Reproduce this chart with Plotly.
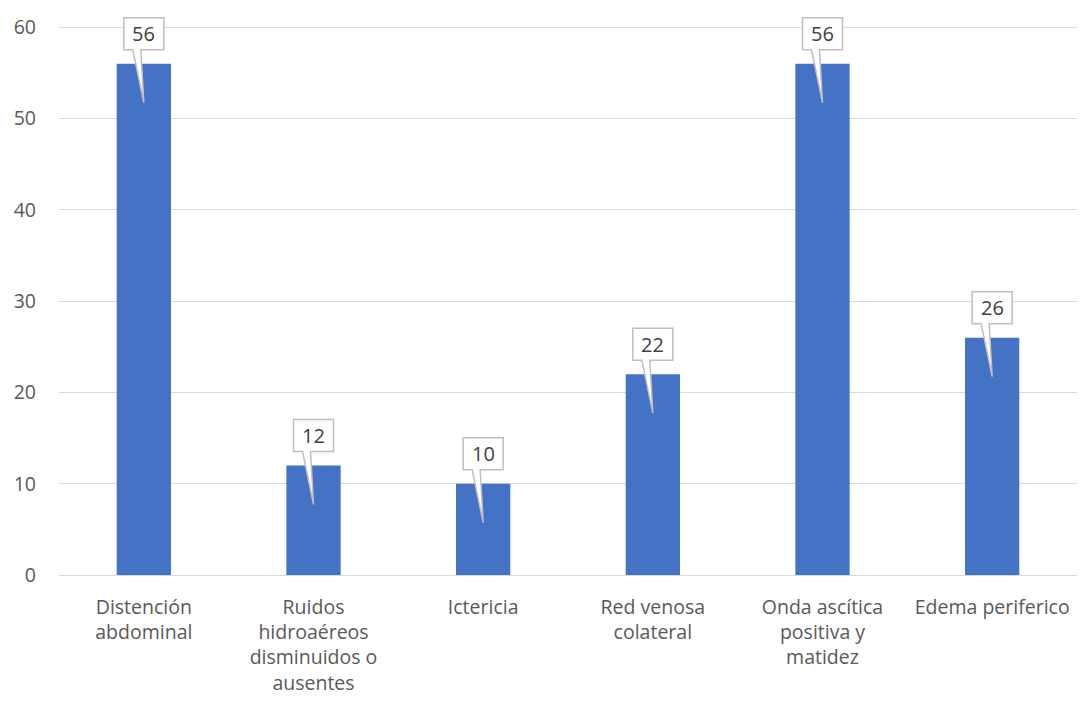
import plotly.graph_objects as go

categories = [
    "Distención<br>abdominal",
    "Ruidos<br>hidroaéreos<br>disminuidos o<br>ausentes",
    "Ictericia",
    "Red venosa<br>colateral",
    "Onda ascítica<br>positiva y<br>matidez",
    "Edema periferico",
]
values = [56, 12, 10, 22, 56, 26]
y_ticks = [0, 10, 20, 30, 40, 50, 60]

FONT = "Open Sans"
BAR_COLOR = "#4472C4"
GRID_COLOR = "#D9D9D9"
LABEL_COLOR = "#595959"

fig = go.Figure(
    go.Bar(
        x=categories,
        y=values,
        marker=dict(color=BAR_COLOR, line=dict(width=0)),
        hoverinfo="skip",
    )
)

# Callout boxes (pixel-sized, anchored at each bar top) with the value text
callout_path = "M -20,14 L -11,14 L 0,-39 L -3,14 L 20,14 L 20,46 L -20,46 Z"
for i, v in enumerate(values):
    fig.add_shape(
        type="path",
        xref="x",
        yref="y",
        xsizemode="pixel",
        ysizemode="pixel",
        xanchor=i,
        yanchor=v,
        path=callout_path,
        line=dict(color="#BFBFBF", width=1.5),
        fillcolor="white",
        layer="above",
    )
    fig.add_annotation(
        x=i,
        y=v,
        xref="x",
        yref="y",
        text=str(v),
        showarrow=False,
        yshift=30,
        font=dict(family=FONT, size=20, color="#404040"),
    )

fig.update_layout(
    width=1080,
    height=702,
    margin=dict(l=59, r=3, t=9, b=127),
    plot_bgcolor="white",
    paper_bgcolor="white",
    showlegend=False,
    bargap=0.68,
    font=dict(family=FONT, size=19.5, color=LABEL_COLOR),
)
fig.update_xaxes(
    showgrid=False,
    showline=False,
    zeroline=False,
    ticks="",
    tickangle=0,
    ticklabelstandoff=18,
    tickfont=dict(family=FONT, size=19.5, color=LABEL_COLOR),
)
fig.update_yaxes(
    range=[0, 62],
    tickmode="array",
    tickvals=y_ticks,
    showgrid=True,
    gridcolor=GRID_COLOR,
    gridwidth=1.3,
    zeroline=True,
    zerolinecolor=GRID_COLOR,
    zerolinewidth=1.3,
    showline=False,
    ticks="",
    ticklabelstandoff=22,
    tickfont=dict(family=FONT, size=19.5, color=LABEL_COLOR),
)

fig.write_html("out.html")
